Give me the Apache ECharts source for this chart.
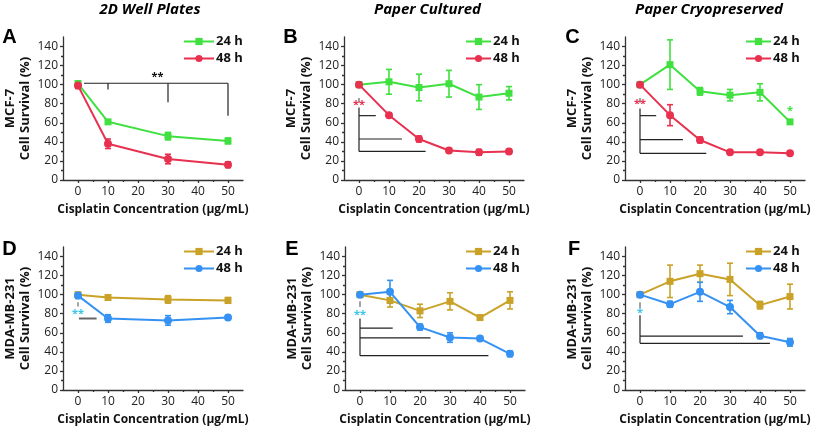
<!DOCTYPE html>
<html><head><meta charset="utf-8">
<script src="https://cdn.jsdelivr.net/npm/echarts@6/dist/echarts.min.js"></script>
<style>html,body{margin:0;padding:0;background:#fff}#c{width:817px;height:433px}</style>
</head><body><div id="c"></div>
<script>
// ---- axis ticks ----
const xTickVals = [0, 10, 20, 30, 40, 50];
const xMinorVals = [5, 15, 25, 35, 45];
const yTickVals = [0, 20, 40, 60, 80, 100, 120, 140];
const yMinorVals = [10, 30, 50, 70, 90, 110, 130];

// ---- concentrations ----
const concWell = [0, 10, 30, 50];
const concPaper = [0, 10, 20, 30, 40, 50];

// ---- A: MCF-7, 2D well plates ----
const A24 = [101, 61, 46, 41];   const A24err = [3, 2, 4, 3];
const A48 = [99, 38, 22, 16];    const A48err = [3, 5, 5, 3];
// ---- B: MCF-7, paper cultured ----
const B24 = [100, 103, 97, 101, 87, 91]; const B24err = [0, 13, 14, 14, 13, 7];
const B48 = [100, 68, 43, 31, 29, 30];   const B48err = [0, 2, 3, 2, 3, 2];
// ---- C: MCF-7, paper cryopreserved ----
const C24 = [100, 121, 93, 89, 92, 61];  const C24err = [0, 26, 4, 6, 9, 2];
const C48 = [100, 68, 42, 29, 29, 28];   const C48err = [0, 11, 3, 2, 2, 1];
// ---- D: MDA-MB-231, 2D well plates ----
const D24 = [100, 97, 95, 94];   const D24err = [2, 2, 4, 3];
const D48 = [99, 75, 73, 76];    const D48err = [3, 4, 5, 2];
// ---- E: MDA-MB-231, paper cultured ----
const E24 = [100, 94, 83, 93, 76, 94];   const E24err = [0, 7, 7, 9, 2, 9];
const E48 = [100, 103, 66, 55, 54, 38];  const E48err = [0, 12, 3, 5, 2, 3];
// ---- F: MDA-MB-231, paper cryopreserved ----
const F24 = [100, 114, 122, 116, 89, 98]; const F24err = [0, 17, 9, 17, 4, 13];
const F48 = [100, 90, 103, 87, 57, 50];   const F48err = [0, 3, 10, 7, 3, 4];

// ---- significance brackets (data coords: x1,y1,x2,y2) ----
const segA = [[2, 101.5, 50, 101.5], [10, 101.5, 10, 95], [30, 101.5, 30, 81.5], [50, 101.5, 50, 67.5]];
const segB = [[0, 76, 0, 30], [0, 67.5, 5.6, 67.5], [0, 43, 14.3, 43], [0, 30, 22.2, 30]];
const segC = [[0, 75, 0, 28], [0, 67.5, 5.4, 67.5], [0, 42.4, 14.3, 42.4], [0, 28, 22.1, 28]];
const segD = [[0.3, 75, 6.2, 75]];
const segE = [[0, 75, 0, 36], [0, 65, 10.9, 65], [0, 54.6, 23.5, 54.6], [0, 36, 42.8, 36]];
const segF = [[0, 78.5, 0, 49], [0, 56.5, 34.3, 56.5], [0, 49, 43.3, 49]];
const dashA = [];
const dashB = [[0, 86, 0, 81.5]];
const dashC = [[0, 86, 0, 81]];
const dashD = [[0, 92, 0, 87.5]];
const dashE = [[0, 93, 0, 87]];
const dashF = [[0, 92, 0, 86]];
// star labels: x, y, text
const starA = [[26.5, 108.5, '**']];
const starB = [[0, 78.5, '**']];
const starC = [[0, 79.5, '**'], [50, 72.5, '*']];
const starD = [[0, 79.5, '**']];
const starE = [[0, 79, '**']];
const starF = [[0, 80.5, '*']];

const titles = ['2D Well Plates', 'Paper Cultured', 'Paper Cryopreserved'];
const cellLines = ['MCF-7', 'MDA-MB-231'];
const letters = ['A', 'B', 'C', 'D', 'E', 'F'];
const seriesNames = ['24 h', '48 h'];
const xTitle = 'Cisplatin Concentration (μg/mL)';

// ---- styling / layout ----
const FONT = 'Open Sans';
const GREEN = '#3fe03f', RED = '#e8304f', GOLD = '#c9a227', BLUE = '#3592f3';
const CYAN = '#38c6e6';
const gridPos = [[63, 37], [344, 37], [625, 37], [63, 247], [345, 247], [625, 247]];
const GW = 180, GH = 143;
const legendPos = [[183, 35, 30], [465, 35, 25], [745, 35, 25], [183, 245, 30], [465, 245, 25], [745, 245, 25]];
const titleX = [150, 427.5, 709];
const letterPos = [[9.5, 37], [290.5, 37], [572.5, 37], [9.5, 249], [292, 249], [574, 249]];

const panels = [
  { x: concWell, v24: A24, e24: A24err, v48: A48, e48: A48err, c24: GREEN, c48: RED, seg: segA, dash: dashA, star: starA, starColors: ['#111'], row: 0 },
  { x: concPaper, v24: B24, e24: B24err, v48: B48, e48: B48err, c24: GREEN, c48: RED, seg: segB, dash: dashB, star: starB, starColors: [RED], row: 0 },
  { x: concPaper, v24: C24, e24: C24err, v48: C48, e48: C48err, c24: GREEN, c48: RED, seg: segC, dash: dashC, star: starC, starColors: [RED, GREEN], row: 0 },
  { x: concWell, v24: D24, e24: D24err, v48: D48, e48: D48err, c24: GOLD, c48: BLUE, seg: segD, dash: dashD, star: starD, starColors: [CYAN], row: 1, thickSeg: true },
  { x: concPaper, v24: E24, e24: E24err, v48: E48, e48: E48err, c24: GOLD, c48: BLUE, seg: segE, dash: dashE, star: starE, starColors: [CYAN], row: 1 },
  { x: concPaper, v24: F24, e24: F24err, v48: F48, e48: F48err, c24: GOLD, c48: BLUE, seg: segF, dash: dashF, star: starF, starColors: [CYAN], row: 1 }
];

const grid = [], xAxis = [], yAxis = [], series = [], legend = [], graphic = [];

function errData(xs, vs, es) {
  const out = [];
  xs.forEach((x, i) => { if (es[i] > 0) out.push([x, vs[i] - es[i], vs[i] + es[i]]); });
  return out;
}
function errSeries(name, data, color, xi, yi) {
  return {
    type: 'custom', name: name + '_err', xAxisIndex: xi, yAxisIndex: yi, data: data, z: 3, silent: true,
    renderItem: (p, api) => {
      const a = api.coord([api.value(0), api.value(1)]);
      const b = api.coord([api.value(0), api.value(2)]);
      const hw = 3;
      const st = { stroke: color, lineWidth: 1.6 };
      return { type: 'group', children: [
        { type: 'line', shape: { x1: a[0], y1: a[1], x2: b[0], y2: b[1] }, style: st },
        { type: 'line', shape: { x1: a[0] - hw, y1: a[1], x2: a[0] + hw, y2: a[1] }, style: st },
        { type: 'line', shape: { x1: b[0] - hw, y1: b[1], x2: b[0] + hw, y2: b[1] }, style: st }
      ]};
    }
  };
}
function segSeries(data, color, width, xi, yi) {
  return {
    type: 'custom', xAxisIndex: xi, yAxisIndex: yi, data: data, z: 1, silent: true,
    renderItem: (p, api) => {
      const a = api.coord([api.value(0), api.value(1)]);
      const b = api.coord([api.value(2), api.value(3)]);
      return { type: 'line', shape: { x1: a[0], y1: a[1], x2: b[0], y2: b[1] }, style: { stroke: color, lineWidth: width } };
    }
  };
}

const axisTextColor = '#222';
const axisLineStyle = { color: '#333', width: 1.3 };

panels.forEach((pn, i) => {
  const [gl, gt] = gridPos[i];
  grid.push({ left: gl, top: gt, width: GW, height: GH });
  const xi = i * 2, yi = i * 2;
  xAxis.push({
    type: 'value', gridIndex: i, min: -5, max: 55, interval: 5, position: 'bottom',
    axisLine: { show: true, onZero: false, lineStyle: axisLineStyle },
    axisTick: { show: true, length: 3, customValues: xTickVals, lineStyle: axisLineStyle },
    axisLabel: { show: true, customValues: xTickVals, margin: 6, fontFamily: FONT, fontSize: 12, color: axisTextColor },
    splitLine: { show: false },
    name: xTitle, nameLocation: 'middle', nameGap: 24,
    nameTextStyle: { fontFamily: FONT, fontSize: 12, fontWeight: 'bold', color: '#111' }
  });
  xAxis.push({
    type: 'value', gridIndex: i, min: -5, max: 55, interval: 5, position: 'bottom',
    axisLine: { show: false, onZero: false },
    axisTick: { show: true, length: 2, customValues: xMinorVals, lineStyle: axisLineStyle },
    axisLabel: { show: false }, splitLine: { show: false }
  });
  yAxis.push({
    type: 'value', gridIndex: i, min: 0, max: 150, interval: 10, position: 'left',
    axisLine: { show: true, onZero: false, lineStyle: axisLineStyle },
    axisTick: { show: true, length: 3, customValues: yTickVals, lineStyle: axisLineStyle },
    axisLabel: { show: true, customValues: yTickVals, margin: 5, fontFamily: FONT, fontSize: 12, color: axisTextColor },
    splitLine: { show: false },
    name: cellLines[pn.row] + '\nCell Survival (%)', nameLocation: 'middle', nameGap: 30, nameRotate: 90,
    nameTextStyle: { fontFamily: FONT, fontSize: 13, fontWeight: 'bold', color: '#111', lineHeight: 15 }
  });
  yAxis.push({
    type: 'value', gridIndex: i, min: 0, max: 150, interval: 10, position: 'left',
    axisLine: { show: false, onZero: false },
    axisTick: { show: true, length: 2, customValues: yMinorVals, lineStyle: axisLineStyle },
    axisLabel: { show: false }, splitLine: { show: false }
  });

  const n24 = letters[i] + '|' + seriesNames[0];
  const n48 = letters[i] + '|' + seriesNames[1];
  // brackets
  series.push(segSeries(pn.seg, pn.thickSeg ? '#666' : '#222', pn.thickSeg ? 2 : 1.2, xi, yi));
  if (pn.dash.length) series.push(segSeries(pn.dash, '#666', 1.2, xi, yi));
  series.push({
    type: 'custom', xAxisIndex: xi, yAxisIndex: yi, data: pn.star.map(s => [s[0], s[1]]), z: 6, silent: true,
    renderItem: (p, api) => {
      const c = api.coord([api.value(0), api.value(1)]);
      return { type: 'text', x: c[0], y: c[1], style: { text: pn.star[p.dataIndex][2], fill: pn.starColors[p.dataIndex] || pn.starColors[0],
        font: 'bold 11px "' + FONT + '"', textAlign: 'center', textVerticalAlign: 'middle' } };
    }
  });
  // lines
  series.push({
    type: 'line', name: n24, xAxisIndex: xi, yAxisIndex: yi, data: pn.x.map((x, k) => [x, pn.v24[k]]),
    symbol: 'rect', symbolSize: 7, color: pn.c24, lineStyle: { width: 2, color: pn.c24 }, itemStyle: { color: pn.c24 }, z: 4
  });
  series.push({
    type: 'line', name: n48, xAxisIndex: xi, yAxisIndex: yi, data: pn.x.map((x, k) => [x, pn.v48[k]]),
    symbol: 'circle', symbolSize: 8, color: pn.c48, lineStyle: { width: 2, color: pn.c48 }, itemStyle: { color: pn.c48 }, z: 5
  });
  series.push(errSeries(n24, errData(pn.x, pn.v24, pn.e24), pn.c24, xi, yi));
  series.push(errSeries(n48, errData(pn.x, pn.v48, pn.e48), pn.c48, xi, yi));

  const [ll, lt, lw] = legendPos[i];
  legend.push({
    data: [n24, n48], left: ll, top: lt, orient: 'vertical', itemWidth: lw, itemHeight: 9, itemGap: 4,
    formatter: n => n.split('|')[1], selectedMode: false, padding: 0,
    textStyle: { fontFamily: FONT, fontSize: 13, fontWeight: 'bold', color: '#111', padding: [0, 0, 0, -3] }
  });

  graphic.push({ type: 'text', x: letterPos[i][0], y: letterPos[i][1],
    style: { text: letters[i], font: 'bold 20px "Liberation Sans"', fill: '#000', textAlign: 'center', textVerticalAlign: 'middle' } });
});
titles.forEach((t, j) => {
  graphic.push({ type: 'text', x: titleX[j], y: 10,
    style: { text: t, font: 'italic bold 15px "' + FONT + '"', fill: '#000', textAlign: 'center', textVerticalAlign: 'middle' } });
});

const chart = echarts.init(document.getElementById('c'), null, { renderer: 'canvas' });
chart.setOption({ animation: false, backgroundColor: '#fff', grid, xAxis, yAxis, series, legend, graphic });
</script></body></html>
